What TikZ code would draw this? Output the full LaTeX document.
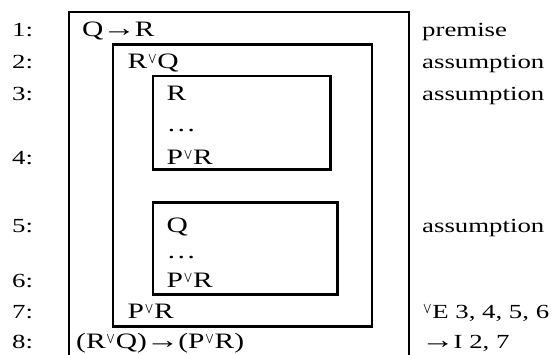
\documentclass[tikz,border=0pt]{standalone}
\usepackage{fontspec}
\setmainfont{Liberation Serif}[FakeStretch=1.34]
\usepackage{graphicx}
\usepackage{tikz}

% small raised "or" and a long thin arrow
\newcommand{\orv}{\kern0.8pt\raisebox{4.6pt}{\resizebox{8.5pt}{8.5pt}{\boldmath$\vee$}}\kern0.8pt}
\newcommand{\imp}{\kern-1pt{\fontsize{25}{25}\selectfont →}\kern-1pt}

\tikzset{
  proofbox/.style={line width=2.2pt},
  lineno/.style={anchor=base west, inner sep=0pt},
  formula/.style={anchor=base west, inner sep=0pt, font=\fontsize{22}{24}\selectfont},
  rule/.style={anchor=base west, inner sep=0pt}
}

\begin{document}
\begin{tikzpicture}[x=1pt,y=-1pt,font=\fontsize{20}{24}\selectfont]
  \useasboundingbox (0,0) rectangle (560,354);

  % the boxes
  \draw[proofbox] (69,357) -- (69,12) -- (409,12) -- (409,357);
  \draw[proofbox] (113,44.5) rectangle (372,326.5);
  \draw[proofbox] (153,76) rectangle (330.5,169.5);
  \draw[proofbox] (153,202.5) rectangle (337.5,294.5);

  % line numbers
  \draw (12,36.5) node[lineno] (n1) {1:};
  \draw (12,68.5) node[lineno] (n2) {2:};
  \draw (12,100) node[lineno] (n3) {3:};
  \draw (12,164) node[lineno] (n4) {4:};
  \draw (12,232) node[lineno] (n5) {5:};
  \draw (12,287) node[lineno] (n6) {6:};
  \draw (12,318) node[lineno] (n7) {7:};
  \draw (12,348) node[lineno] (n8) {8:};

  % formulas
  \draw (82,36.5) node[formula] (qr) {Q\imp R};
  \draw (127.5,68.5) node[formula] (rq) {R\orv Q};
  \draw (166.5,100) node[formula] (r) {R};
  \draw (166.5,131.5) node[formula] (dotsa) {…};
  \draw (166.5,164) node[formula] (pra) {P\orv R};
  \draw (166.5,232) node[formula] (q) {Q};
  \draw (166.5,258) node[formula] (dotsb) {…};
  \draw (166.5,287) node[formula] (prb) {P\orv R};
  \draw (127.5,318) node[formula] (prc) {P\orv R};
  \draw (76,348) node[formula] (goal) {(R\orv Q)\imp(P\orv R)};

  % reasons
  \draw (422,36.5) node[rule] (j1) {premise};
  \draw (422,68.5) node[rule] (j2) {assumption};
  \draw (422,100) node[rule] (j3) {assumption};
  \draw (422,232) node[rule] (j5) {assumption};
  \draw (422,318) node[rule] (j7) {\orv E 3, 4, 5, 6};
  \draw (422,348) node[rule] (j8) {\imp I 2, 7};
\end{tikzpicture}
\end{document}
